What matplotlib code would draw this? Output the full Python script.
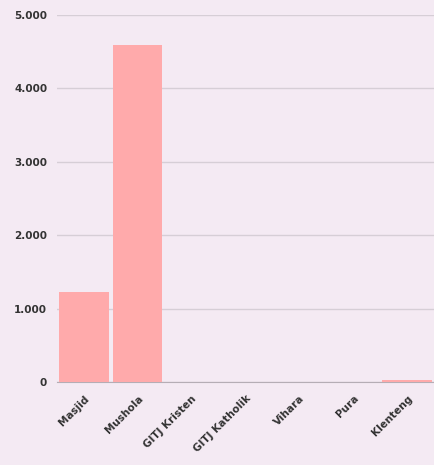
import matplotlib.pyplot as plt
from matplotlib.ticker import FuncFormatter

categories = ['Masjid', 'Mushola', 'GITJ Kristen', 'GITJ Katholik', 'Vihara', 'Pura', 'Klenteng']
values = [1230, 4590, 8, 3, 0, 0, 25]
yticks = [0, 1000, 2000, 3000, 4000, 5000]

fig = plt.figure(figsize=(4.34, 4.65), dpi=100)
fig.patch.set_facecolor('#f4eaf3')
ax = fig.add_axes([0.131, 0.178, 0.869, 0.79])
ax.set_facecolor('#f4eaf3')

ax.bar(categories, values, width=0.92, color='#ffaaab', zorder=3)

ax.set_ylim(0, 5000)
ax.set_xlim(-0.5, len(categories) - 0.5)
ax.set_yticks(yticks)
ax.yaxis.set_major_formatter(FuncFormatter(lambda v, p: f'{int(v):,}'.replace(',', '.')))
ax.grid(axis='y', color='#d6ced6', linewidth=1, zorder=0)
for s in ['top', 'right', 'left']:
    ax.spines[s].set_visible(False)
ax.spines['bottom'].set_color('#b5adb5')
ax.tick_params(axis='y', length=0, labelsize=7.5, labelcolor='#333333', pad=7)
ax.tick_params(axis='x', length=0, labelsize=7.5, labelcolor='#333333', pad=8)
for lbl in ax.get_yticklabels():
    lbl.set_fontweight('bold')
ax.set_xticks(range(len(categories)))
ax.set_xticklabels(categories, rotation=45, ha='right', rotation_mode='anchor', fontweight='bold')

fig.savefig('out.png', dpi=100, facecolor=fig.get_facecolor())
